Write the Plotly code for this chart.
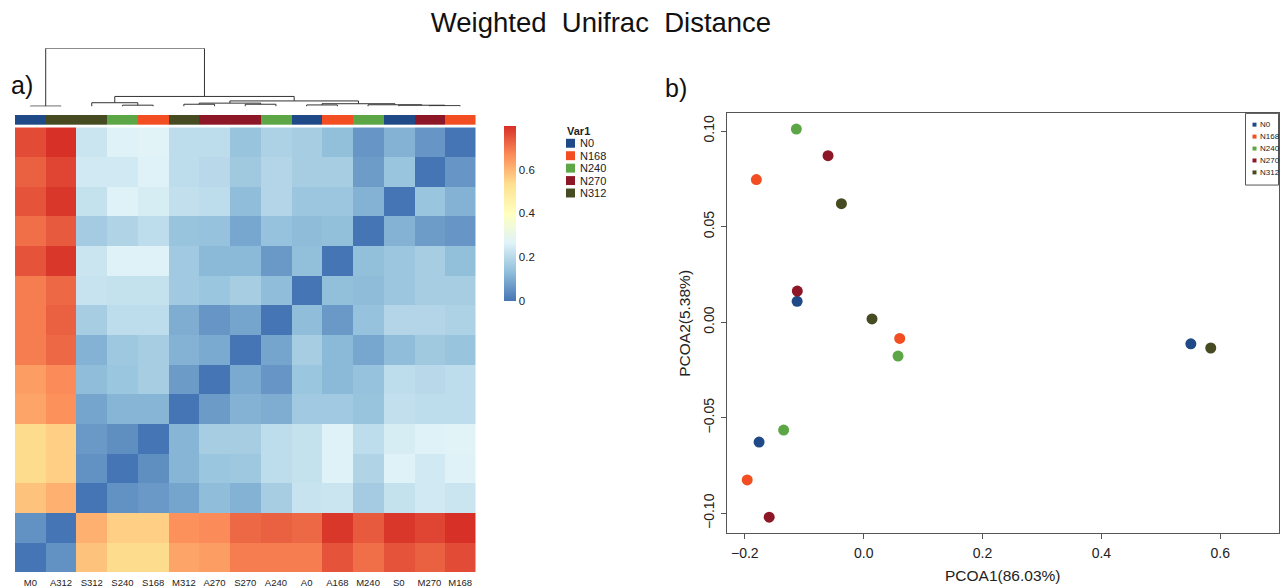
import plotly.graph_objects as go

W, H = 1283, 588
def px(x):
    return x / W
def py(y):
    return 1 - y / H

FONT = "Liberation Sans, Arial, Helvetica, sans-serif"

# ---------------- data ----------------
samples = ["M0", "A312", "S312", "S240", "S168", "M312", "A270", "S270",
           "A240", "A0", "A168", "M240", "S0", "M270", "M168"]
sample_group = ["N0", "N312", "N312", "N240", "N168", "N312", "N270", "N270",
                "N240", "N0", "N168", "N240", "N0", "N270", "N168"]
groups = ["N0", "N168", "N240", "N270", "N312"]
group_colors = ["#1f4a87", "#f24e22", "#5ca646", "#8e1727", "#464b22"]

# weighted unifrac distance matrix (rows/cols in 'samples' order)
dist = [
    [0.00, 0.05, 0.58, 0.54, 0.54, 0.63, 0.64, 0.69, 0.69, 0.69, 0.75, 0.71, 0.75, 0.73, 0.76],
    [0.05, 0.00, 0.61, 0.56, 0.56, 0.66, 0.67, 0.72, 0.73, 0.72, 0.79, 0.74, 0.79, 0.77, 0.80],
    [0.58, 0.61, 0.00, 0.05, 0.065, 0.085, 0.13, 0.11, 0.17, 0.225, 0.23, 0.165, 0.22, 0.24, 0.23],
    [0.54, 0.56, 0.05, 0.00, 0.045, 0.115, 0.15, 0.155, 0.21, 0.22, 0.265, 0.185, 0.265, 0.24, 0.265],
    [0.54, 0.56, 0.065, 0.045, 0.00, 0.115, 0.17, 0.17, 0.21, 0.22, 0.265, 0.21, 0.25, 0.265, 0.27],
    [0.63, 0.66, 0.085, 0.115, 0.115, 0.00, 0.068, 0.11, 0.10, 0.16, 0.16, 0.145, 0.215, 0.21, 0.21],
    [0.64, 0.67, 0.13, 0.15, 0.17, 0.068, 0.00, 0.095, 0.06, 0.15, 0.123, 0.142, 0.21, 0.20, 0.21],
    [0.69, 0.72, 0.11, 0.155, 0.17, 0.11, 0.095, 0.00, 0.085, 0.17, 0.123, 0.088, 0.13, 0.158, 0.145],
    [0.69, 0.73, 0.17, 0.21, 0.21, 0.10, 0.06, 0.085, 0.00, 0.13, 0.065, 0.142, 0.19, 0.19, 0.18],
    [0.69, 0.72, 0.225, 0.22, 0.22, 0.16, 0.15, 0.17, 0.13, 0.00, 0.135, 0.128, 0.152, 0.17, 0.17],
    [0.75, 0.79, 0.23, 0.265, 0.265, 0.16, 0.123, 0.123, 0.065, 0.135, 0.00, 0.135, 0.152, 0.17, 0.135],
    [0.71, 0.74, 0.165, 0.185, 0.21, 0.145, 0.142, 0.088, 0.142, 0.128, 0.135, 0.00, 0.11, 0.07, 0.06],
    [0.75, 0.79, 0.22, 0.265, 0.25, 0.215, 0.21, 0.13, 0.19, 0.152, 0.152, 0.11, 0.00, 0.148, 0.11],
    [0.73, 0.77, 0.24, 0.24, 0.265, 0.21, 0.20, 0.158, 0.19, 0.17, 0.17, 0.07, 0.148, 0.00, 0.06],
    [0.76, 0.80, 0.23, 0.265, 0.27, 0.21, 0.21, 0.145, 0.18, 0.17, 0.135, 0.06, 0.11, 0.06, 0.00],
]

# column dendrogram: (left, right, height); str = leaf, int = earlier merge index
dendro_merges = [
    ("M0", "A312", 0.006),    # 0
    ("S240", "S168", 0.022),  # 1
    ("S312", 1, 0.064),       # 2
    ("M312", "A270", 0.038),  # 3
    ("S270", "A240", 0.038),  # 4
    (3, 4, 0.057),            # 5
    ("A0", "A168", 0.026),    # 6
    ("M270", "M168", 0.014),  # 7
    ("S0", 7, 0.021),         # 8
    ("M240", 8, 0.029),       # 9
    (6, 9, 0.047),            # 10
    (5, 10, 0.095),           # 11
    (2, 11, 0.172),           # 12
    (0, 12, 1.0),             # 13
]

# PCoA coordinates
pc_group = ["N0", "N0", "N0", "N168", "N168", "N168", "N240", "N240", "N240",
            "N270", "N270", "N270", "N312", "N312", "N312"]
pc1 = [-0.112, -0.176, 0.5505, -0.1806, 0.0606, -0.196, -0.1133, 0.0578, -0.1347,
       -0.060, -0.1117, -0.159, -0.0375, 0.014, 0.584]
pc2 = [0.0109, -0.0627, -0.0113, 0.0746, -0.0085, -0.0825, 0.101, -0.0177, -0.0564,
       0.0871, 0.0163, -0.102, 0.062, 0.0017, -0.0135]

colorbar_ticks = [0, 0.2, 0.4, 0.6]
pc1_ticks = [-0.2, 0.0, 0.2, 0.4, 0.6]
pc2_ticks = [-0.10, -0.05, 0.00, 0.05, 0.10]

rdylbu_rev = ["#4575B4", "#91BFDB", "#E0F3F8", "#FFFFBF", "#FEE090", "#FC8D59", "#D73027"]

# ---------------- figure ----------------
fig = go.Figure()

zmax = max(max(r) for r in dist)
cs = [[i / (len(rdylbu_rev) - 1), c] for i, c in enumerate(rdylbu_rev)]

fig.add_trace(go.Heatmap(
    z=dist, x=samples, y=samples, colorscale=cs, zmin=0, zmax=zmax,
    xaxis="x", yaxis="y",
    colorbar=dict(x=px(504), xanchor="left", xref="paper", xpad=0, ypad=0,
                  y=py(214.5), yanchor="middle", len=175, lenmode="pixels",
                  thickness=12, outlinewidth=0, ticks="", tickvals=colorbar_ticks,
                  ticktext=["0", "0.2", "0.4", "0.6"],
                  tickfont=dict(size=11.5, color="#222", family=FONT)),
))

# annotation bar
gidx = [groups.index(g) for g in sample_group]
n = len(groups)
disc = []
for i, c in enumerate(group_colors):
    disc.append([i / n, c])
    disc.append([(i + 1) / n, c])
fig.add_trace(go.Heatmap(
    z=[gidx], x=samples, y=["Var1"], colorscale=disc, zmin=-0.5, zmax=n - 0.5,
    showscale=False, xaxis="x2", yaxis="y2", hoverinfo="skip",
))

# dendrogram
pos = {s: i for i, s in enumerate(samples)}
node_x, node_h = [], []
def get(nd):
    if isinstance(nd, str):
        return pos[nd], 0.0
    return node_x[nd], node_h[nd]
dx, dy = [], []
for a, b, h in dendro_merges:
    xa, ha = get(a)
    xb, hb = get(b)
    dx += [xa, xa, xb, xb, None]
    dy += [ha, h, h, hb, None]
    node_x.append((xa + xb) / 2)
    node_h.append(h)
fig.add_trace(go.Scatter(x=dx, y=dy, mode="lines", line=dict(color="#333", width=1),
                         xaxis="x3", yaxis="y3", hoverinfo="skip", showlegend=False))

# PCoA
for g, c in zip(groups, group_colors):
    xs = [x for x, gg in zip(pc1, pc_group) if gg == g]
    ys = [y for y, gg in zip(pc2, pc_group) if gg == g]
    fig.add_trace(go.Scatter(x=xs, y=ys, mode="markers", name=g,
                             marker=dict(color=c, size=11, line=dict(width=0)),
                             xaxis="x4", yaxis="y4", showlegend=False))

hm_dom_x = [px(15), px(475.5)]
fig.update_layout(
    width=W, height=H, margin=dict(l=0, r=0, t=0, b=0),
    paper_bgcolor="white", plot_bgcolor="white",
    font=dict(family=FONT, color="#222"),
    showlegend=False,
    title=dict(text="Weighted\u00a0 Unifrac\u00a0 Distance", x=px(601), y=py(22),
               xanchor="center", yanchor="middle",
               font=dict(size=27.5, color="#111", family=FONT)),
    xaxis=dict(domain=hm_dom_x, anchor="y", showgrid=False, zeroline=False, ticks="",
               tickfont=dict(size=9.5, color="#222"), showline=False, ticklabelstandoff=3),
    yaxis=dict(domain=[py(575), py(128)], anchor="x", showticklabels=False,
               showgrid=False, zeroline=False, ticks=""),
    xaxis2=dict(domain=hm_dom_x, anchor="y2", matches="x", showticklabels=False,
                showgrid=False, zeroline=False, ticks=""),
    yaxis2=dict(domain=[py(125.5), py(115.5)], anchor="x2", showticklabels=False,
                showgrid=False, zeroline=False, ticks=""),
    xaxis3=dict(domain=hm_dom_x, anchor="y3", range=[-0.5, len(samples) - 0.5],
                visible=False),
    yaxis3=dict(domain=[py(107), py(48.5)], anchor="x3", range=[0, 1], visible=False),
    xaxis4=dict(domain=[px(727), px(1278.5)], anchor="y4", range=[-0.230, 0.698],
                showgrid=False, zeroline=False, showline=True, mirror=True,
                linecolor="#555", linewidth=1, ticks="outside", ticklen=5,
                tickcolor="#555", tickvals=pc1_ticks, tickformat=".1f",
                tickfont=dict(size=14, color="#222"), ticklabelstandoff=2,
                title=dict(text="PCOA1(86.03%)", font=dict(size=15.5, color="#222"),
                           standoff=10)),
    yaxis4=dict(domain=[py(536), py(114)], anchor="x4", range=[-0.1104, 0.1092],
                showgrid=False, zeroline=False, showline=True, mirror=True,
                linecolor="#555", linewidth=1, ticks="outside", ticklen=5,
                tickcolor="#555", tickvals=pc2_ticks, tickformat=".2f", tickangle=-90,
                tickfont=dict(size=14, color="#222"), ticklabelstandoff=1,
                title=dict(text="PCOA2(5.38%)", font=dict(size=15.5, color="#222"),
                           standoff=6)),
)

annotations = [
    dict(text="a)", x=px(9), y=py(85), xref="paper", yref="paper", xanchor="left",
         yanchor="middle", showarrow=False, font=dict(size=25, color="#111")),
    dict(text="b)", x=px(663), y=py(88), xref="paper", yref="paper", xanchor="left",
         yanchor="middle", showarrow=False, font=dict(size=25, color="#111")),
    dict(text="<b>Var1</b>", x=px(565), y=py(132), xref="paper", yref="paper",
         xanchor="left", yanchor="middle", showarrow=False,
         font=dict(size=11, color="#222")),
]
shapes = []
# heatmap annotation legend
for i, (g, c) in enumerate(zip(groups, group_colors)):
    yc = 144 + i * 12.5
    shapes.append(dict(type="rect", xref="paper", yref="paper",
                       x0=px(566), x1=px(575), y0=py(yc + 4.5), y1=py(yc - 4.5),
                       fillcolor=c, line=dict(width=0)))
    annotations.append(dict(text=g, x=px(578), y=py(yc), xref="paper", yref="paper",
                            xanchor="left", yanchor="middle", showarrow=False,
                            font=dict(size=11, color="#222")))
# PCoA legend box
shapes.append(dict(type="rect", xref="paper", yref="paper",
                   x0=px(1245.5), x1=px(1278.5), y0=py(186), y1=py(114),
                   fillcolor="rgba(0,0,0,0)", line=dict(color="#555", width=1)))
for i, (g, c) in enumerate(zip(groups, group_colors)):
    yc = 125.3 + i * 12
    shapes.append(dict(type="rect", xref="paper", yref="paper",
                       x0=px(1252.5), x1=px(1256.5), y0=py(yc + 2), y1=py(yc - 2),
                       fillcolor=c, line=dict(width=0)))
    annotations.append(dict(text=g, x=px(1257.5), y=py(yc), xref="paper", yref="paper",
                            xanchor="left", yanchor="middle", showarrow=False,
                            font=dict(size=8, color="#222")))

fig.update_layout(annotations=annotations, shapes=shapes)
fig.write_html("out.html")
